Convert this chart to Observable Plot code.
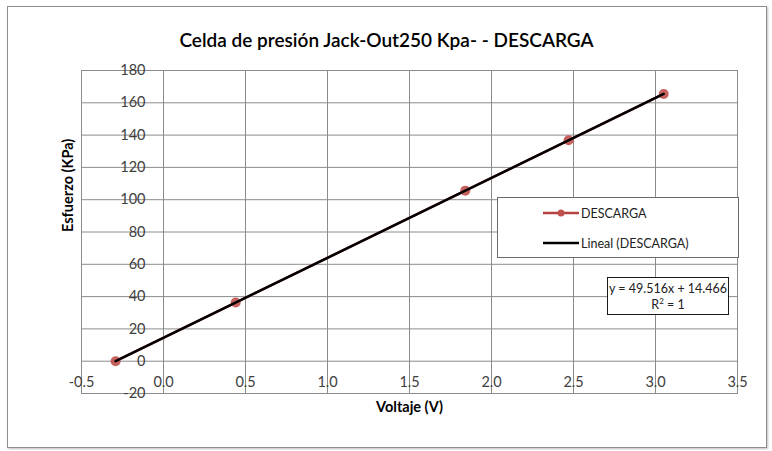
<!DOCTYPE html>
<html>
<head>
<meta charset="utf-8">
<script src="https://cdn.jsdelivr.net/npm/d3@7"></script>
<script src="https://cdn.jsdelivr.net/npm/@observablehq/plot@0.6"></script>
<style>
  body { margin: 0; background: #fff; font-family: Lato, "Open Sans", sans-serif; }
  #chart { position: relative; width: 772px; height: 451px; }
  #chart > svg { position: absolute; left: 0; top: 0; }
  #border { position: absolute; left: 7px; top: 6px; width: 758px; height: 440px;
            border: 1px solid #8e8e8e; box-shadow: 1px 1px 2px rgba(0,0,0,0.25); pointer-events: none; }
  .legend { position: absolute; left: 497px; top: 197px; width: 240px; height: 59px;
            border: 1px solid #6a6a6a; background: #fff; font-size: 12.5px; color: #222; }
  .legend .row { position: absolute; left: 45px; height: 16px; display: flex; align-items: center; }
  .legend .row svg { display: block; margin-right: 2px; }
  .eq { position: absolute; left: 607px; top: 277px; width: 122px; height: 38px;
        border: 1.5px solid #1a1a1a; background: #fff; font-size: 12.5px; color: #222;
        text-align: center; line-height: 16px; padding-top: 3px; box-sizing: border-box; }
</style>
</head>
<body>
<div id="chart"></div>
<script>
// Unloading run of the pressure cell: voltage reading vs applied stress
const voltage = [-0.292, 0.44, 1.84, 2.47, 3.05];
const stress = [0, 36.3, 105.6, 136.8, 165.5];

// Linear trendline reported for the series
const slope = 49.516;
const intercept = 14.466;

const xTicks = [-0.5, 0, 0.5, 1, 1.5, 2, 2.5, 3, 3.5];
const yTicks = [-20, 0, 20, 40, 60, 80, 100, 120, 140, 160, 180];

const seriesName = "DESCARGA";
const trendName = "Lineal (DESCARGA)";
const titleText = "Celda de presión Jack-Out250 Kpa- - DESCARGA";
const xTitle = "Voltaje (V)";
const yTitle = "Esfuerzo (KPa)";

const seriesColor = "#b5413e";
const markerColor = "#c0504d";
const gridColor = "#8c8c8c";
const tickColor = "#404040";

const points = voltage.map((v, i) => ({v, s: stress[i]}));
const vExtent = d3.extent(voltage);
const trend = vExtent.map(v => ({v, s: slope * v + intercept}));

const plot = Plot.plot({
  width: 772,
  height: 451,
  marginLeft: 81,
  marginRight: 35,
  marginTop: 70,
  marginBottom: 58,
  style: {fontFamily: "Lato, 'Open Sans', sans-serif", background: "transparent", overflow: "visible"},
  x: {domain: [-0.5, 3.5]},
  y: {domain: [-20, 180]},
  marks: [
    Plot.gridX(xTicks, {stroke: gridColor, strokeOpacity: 1}),
    Plot.gridY(yTicks, {stroke: gridColor, strokeOpacity: 1}),
    Plot.frame({stroke: gridColor}),
    Plot.axisY(yTicks, {
      anchor: "left", tickSize: 0, tickPadding: 0, dx: 64,
      tickFormat: d => String(d), fontSize: 14.5, fill: tickColor, label: null
    }),
    Plot.axisX(xTicks, {
      anchor: "bottom", tickSize: 0, tickPadding: 0, dy: -17,
      tickFormat: d => d.toFixed(1), fontSize: 14.5, fill: tickColor, label: null
    }),
    Plot.line(points, {x: "v", y: "s", stroke: seriesColor, strokeWidth: 2.5}),
    Plot.dot(points, {x: "v", y: "s", r: 5, fill: markerColor, fillOpacity: 0.9}),
    Plot.line(trend, {x: "v", y: "s", stroke: "#000", strokeWidth: 2.5}),
    Plot.text([titleText], {frameAnchor: "top", dy: -37, dx: -23, fontSize: 19, fontWeight: 600, fill: "#000"}),
    Plot.text([xTitle], {frameAnchor: "bottom", dy: 18, fontSize: 14.5, fontWeight: 700, fill: "#000"}),
    Plot.text([yTitle], {frameAnchor: "left", dx: -13, rotate: -90, fontSize: 14.5, fontWeight: 700, fill: "#000"})
  ]
});

const chart = document.getElementById("chart");
chart.appendChild(plot);

const border = document.createElement("div");
border.id = "border";
chart.appendChild(border);

// Legend box
const legend = document.createElement("div");
legend.className = "legend";
function swatch(withMarker, color) {
  const ns = "http://www.w3.org/2000/svg";
  const s = document.createElementNS(ns, "svg");
  s.setAttribute("width", 36); s.setAttribute("height", 10);
  const l = document.createElementNS(ns, "line");
  l.setAttribute("x1", 0); l.setAttribute("x2", 36); l.setAttribute("y1", 5); l.setAttribute("y2", 5);
  l.setAttribute("stroke", color); l.setAttribute("stroke-width", 2.5);
  s.appendChild(l);
  if (withMarker) {
    const c = document.createElementNS(ns, "circle");
    c.setAttribute("cx", 18); c.setAttribute("cy", 5); c.setAttribute("r", 3.5);
    c.setAttribute("fill", markerColor);
    s.appendChild(c);
  }
  return s;
}
[[seriesName, true, seriesColor, 7], [trendName, false, "#000", 37]].forEach(([name, mk, col, top]) => {
  const row = document.createElement("div");
  row.className = "row";
  row.style.top = top + "px";
  row.appendChild(swatch(mk, col));
  const t = document.createElement("span");
  t.textContent = name;
  row.appendChild(t);
  legend.appendChild(row);
});
chart.appendChild(legend);

// Trendline equation box
const eq = document.createElement("div");
eq.className = "eq";
eq.innerHTML = `y = ${slope}x + ${intercept}<br>R<sup style="font-size:8px;line-height:0">2</sup> = 1`;
chart.appendChild(eq);
</script>
</body>
</html>
